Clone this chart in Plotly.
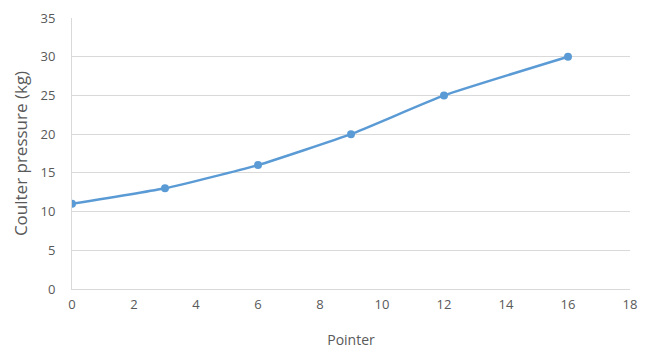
import plotly.graph_objects as go

pointer = [0, 3, 6, 9, 12, 16]
pressure = [11, 13, 16, 20, 25, 30]

x_ticks = list(range(0, 19, 2))
y_ticks = list(range(0, 36, 5))

font = dict(family="Open Sans", color="#595959")

fig = go.Figure(
    go.Scatter(
        x=pointer, y=pressure,
        mode="lines+markers",
        line=dict(color="#5B9BD5", width=2.5, shape="spline", smoothing=0.4),
        marker=dict(color="#5B9BD5", size=8),
        showlegend=False,
    )
)

fig.update_layout(
    width=655, height=349,
    margin=dict(l=72, r=25, t=18, b=60),
    paper_bgcolor="white", plot_bgcolor="white",
    font=font,
    xaxis=dict(
        range=[0, 18], tickvals=x_ticks, showgrid=False, zeroline=False,
        showline=True, linecolor="#D9D9D9", linewidth=1, automargin=False,
        ticks="", tickfont=dict(size=13), ticklabelstandoff=3,
        title=dict(text="Pointer", font=dict(size=14), standoff=23),
    ),
    yaxis=dict(
        range=[0, 35], tickvals=y_ticks, showgrid=True, gridcolor="#D9D9D9",
        zeroline=False, showline=True, linecolor="#D9D9D9", linewidth=1, automargin=False,
        ticks="", tickfont=dict(size=13), ticklabelstandoff=13,
        title=dict(text="Coulter pressure (kg)", font=dict(size=17), standoff=8),
    ),
)

# page has a default body margin; drop it so the figure sits at the corner
fig.write_html("out.html", config=dict(displayModeBar=False),
               post_script="document.body.style.margin='0';")
